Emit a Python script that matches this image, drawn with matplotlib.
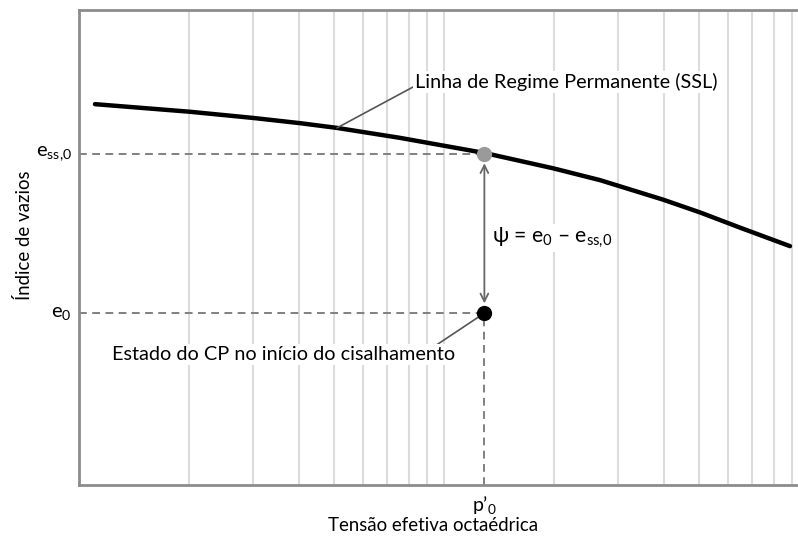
import numpy as np
import matplotlib.pyplot as plt
from matplotlib.ticker import LogLocator, NullLocator

plt.rcParams['font.family'] = ['Lato', 'DejaVu Sans']
plt.rcParams['mathtext.fontset'] = 'custom'
plt.rcParams['mathtext.rm'] = 'Lato'
plt.rcParams['mathtext.it'] = 'Lato'
plt.rcParams['mathtext.default'] = 'regular'

# linha de regime permanente (SSL) em escala log de p'
ssl_p = [1.106, 2.014, 2.997, 4.03, 5.09, 7.58, 12.95, 19.89, 26.76, 39.8, 50.3, 64.7, 88.7]
ssl_e = [0.802, 0.786, 0.773, 0.762, 0.752, 0.731, 0.699, 0.667, 0.642, 0.601, 0.574, 0.542, 0.503]

# estado do corpo de prova
p0 = 12.9
e_ss0 = 0.698
e0 = 0.362

fig = plt.figure(figsize=(7.98, 5.36), dpi=100)
ax = fig.add_axes([0.099, 0.0951, 0.9148, 0.886])
ax.set_xscale('log')
ax.set_xlim(1, 100)
ax.set_ylim(0, 1)

# grade vertical logarítmica
ax.xaxis.set_major_locator(LogLocator(base=10, subs=range(1, 10)))
ax.xaxis.set_minor_locator(NullLocator())
ax.yaxis.set_major_locator(NullLocator())
ax.tick_params(axis='x', length=0, labelbottom=False)
ax.grid(axis='x', color='#dcdcdc', lw=1.5)
ax.set_axisbelow(True)
for s in ['left', 'bottom', 'top']:
    ax.spines[s].set_color('#8c8c8c')
    ax.spines[s].set_linewidth(2)
ax.spines['right'].set_visible(False)

ax.plot(ssl_p, ssl_e, color='black', lw=3.2, solid_capstyle='round',
        solid_joinstyle='round', zorder=3)

# linhas tracejadas de referência
dash = (0, (4, 2.8))
ax.plot([1, p0], [e_ss0, e_ss0], color='#808080', lw=1.4, ls=dash, zorder=2)
ax.plot([1, p0], [e0, e0], color='#808080', lw=1.4, ls=dash, zorder=2)
ax.plot([p0, p0], [0, e0], color='#808080', lw=1.4, ls=dash, zorder=2)

ax.plot(p0, e_ss0, 'o', color='#9a9a9a', ms=11, mec='none', zorder=5)
ax.plot(p0, e0, 'o', color='black', ms=11, mec='none', zorder=5)

ax.annotate('', xy=(p0, e0), xytext=(p0, e_ss0),
            arrowprops=dict(arrowstyle='<->', color='#666666', lw=1.3,
                            shrinkA=7, shrinkB=7, mutation_scale=14), zorder=4)

box = dict(fc='white', ec='none', pad=1.5)
ax.annotate('Linha de Regime Permanente (SSL)', xy=(5.09, 0.752), xytext=(8.33, 0.848),
            ha='left', va='center', fontsize=14.3, bbox=box,
            arrowprops=dict(arrowstyle='-', color='#555555', lw=1.2,
                            relpos=(0, 0.3), shrinkA=0, shrinkB=0))
ax.annotate('Estado do CP no início do cisalhamento', xy=(p0, e0), xytext=(1.23, 0.274),
            ha='left', va='center', fontsize=14.3, bbox=box,
            arrowprops=dict(arrowstyle='-', color='#555555', lw=1.2,
                            relpos=(0.94, 1.0), shrinkA=0, shrinkB=4))
ax.text(13.55, 0.52, 'ψ = e$_0$ – e$_{ss{,}0}$', ha='left', va='center',
        fontsize=15.2, bbox=box, zorder=4)

# rótulos dos eixos
ax.text(-0.01, e_ss0, 'e$_{ss{,}0}$', transform=ax.get_yaxis_transform(),
        ha='right', va='center', fontsize=14.5)
ax.text(-0.01, e0, 'e$_0$', transform=ax.get_yaxis_transform(),
        ha='right', va='center', fontsize=14.5)
ax.text(p0, -0.018, 'p’$_0$', transform=ax.get_xaxis_transform(),
        ha='center', va='top', fontsize=14)
fig.text(0.543, 0.02, 'Tensão efetiva octaédrica', ha='center', va='center', fontsize=13.4)
fig.text(0.03, 0.562, 'Índice de vazios', ha='center', va='center',
         rotation=90, fontsize=13.4)

fig.savefig('out.png', dpi=100)
